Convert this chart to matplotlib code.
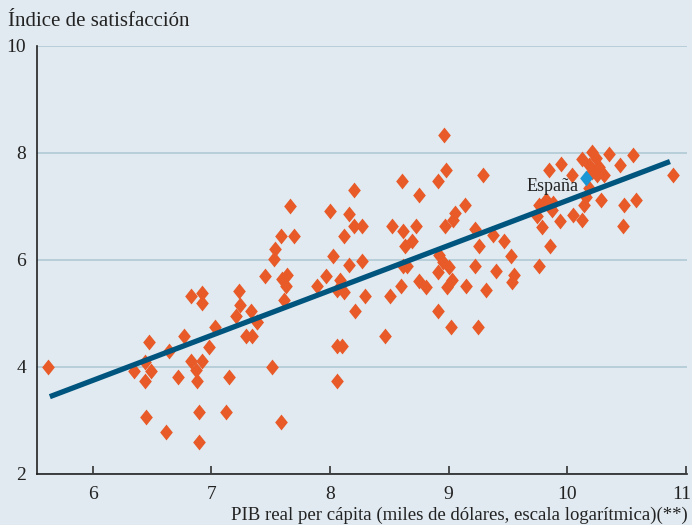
import matplotlib
matplotlib.use("Agg")
import matplotlib.pyplot as plt
import matplotlib.transforms as mtransforms
from matplotlib.path import Path

# log real GDP per capita (x) and satisfaction index (y)
gdp = [5.62, 6.348, 6.438, 6.488, 6.438, 6.471, 6.64, 6.766, 6.825, 6.92, 6.873, 6.881, 6.721,
       6.976, 7.033, 7.145, 6.452, 6.614, 6.895, 6.895, 7.125, 7.21, 7.237, 7.336, 7.29, 7.34,
       7.38, 6.825, 6.92, 6.92, 7.229, 7.386, 7.45, 7.509, 7.588, 7.524, 7.54, 7.588, 7.692,
       7.664, 7.594, 7.639, 7.63, 7.61, 7.888, 7.967, 8.003, 8.023, 8.056, 8.085, 8.121, 8.056,
       8.1, 8.056, 8.121, 8.163, 8.2, 8.267, 8.2, 8.163, 8.267, 8.298, 8.214, 8.466, 8.506,
       8.525, 8.612, 8.61, 8.598, 8.612, 8.646, 8.635, 8.69, 8.724, 8.752, 8.746, 8.809, 8.907,
       8.977, 8.966, 9.033, 9.05, 8.92, 8.949, 9.0, 8.91, 9.025, 8.988, 8.907, 9.02,
       8.963, 9.285, 9.14, 9.224, 9.252, 9.37, 9.462, 9.524, 9.224, 9.4, 9.55, 9.537, 9.15,
       9.313, 9.25,
       9.757, 9.853, 9.79, 9.748, 9.757, 9.819, 9.88, 9.874, 9.937,
       10.127, 10.21, 10.245, 10.18, 10.27, 10.25, 10.31, 10.21, 10.35, 10.44, 10.55, 10.18,
       10.155, 10.14, 10.28, 10.48, 10.58, 10.47, 10.05, 10.12, 9.847, 9.945, 10.04, 10.893]
satisf = [4.0, 3.925, 4.10, 3.925, 3.73, 4.47, 4.29, 4.57, 4.12, 4.11, 3.94, 3.73, 3.82,
          4.38, 4.75, 3.82, 3.07, 2.78, 3.15, 2.59, 3.16, 4.95, 5.15, 5.05, 4.57, 4.57,
          4.85, 5.33, 5.38, 5.20, 5.42, 4.84, 5.70, 4.0, 2.97, 6.01, 6.20, 6.45, 6.45,
          7.01, 5.64, 5.71, 5.51, 5.26, 5.51, 5.70, 6.92, 6.07, 5.43, 5.63, 5.41, 4.39,
          4.39, 3.73, 6.45, 6.86, 6.64, 6.64, 7.30, 5.91, 5.99, 5.33, 5.05, 4.58, 5.33,
          6.64, 6.55, 7.48, 5.52, 5.89, 5.89, 6.26, 6.36, 6.64, 7.21, 5.61, 5.50, 7.48,
          7.68, 6.64, 6.75, 6.87, 6.09, 5.97, 5.86, 5.78, 5.63, 5.49, 5.05, 4.75,
          8.34, 7.59, 7.02, 6.58, 6.27, 6.47, 6.36, 6.08, 5.89, 5.79, 5.72, 5.59, 5.52,
          5.43, 4.75,
          5.89, 6.27, 6.61, 6.82, 7.03, 7.12, 7.06, 6.93, 6.72,
          7.88, 8.01, 7.90, 7.78, 7.74, 7.59, 7.59, 7.65, 7.98, 7.78, 7.96, 7.34,
          7.18, 7.03, 7.12, 7.03, 7.12, 6.64, 6.84, 6.75, 7.68, 7.79, 7.59, 7.59]

spain_gdp = [10.155]
spain_satisf = [7.53]
spain_label = "España"

fit_x = [5.638, 10.865]
fit_y = [3.445, 7.84]

x_ticks = [6, 7, 8, 9, 10, 11]
y_ticks = [2, 4, 6, 8, 10]

bg = "#e1eaf0"
orange = "#e85a28"
navy = "#00557f"
blue = "#1a96d4"
grid_c = "#b7cfda"

plt.rcParams['font.family'] = ['Liberation Serif', 'DejaVu Serif']

diamond = Path([(0, 1), (0.8, 0), (0, -1), (-0.8, 0), (0, 1)],
               [Path.MOVETO, Path.LINETO, Path.LINETO, Path.LINETO, Path.CLOSEPOLY])

fig = plt.figure(figsize=(6.92, 5.25), dpi=100, facecolor=bg)
ax = fig.add_axes([0.0535, 0.0972, 0.9395, 0.8152])
ax.set_facecolor(bg)

ax.set_xlim(5.53, 11.01)
ax.set_ylim(2, 10)

ax.set_yticks(y_ticks)
ax.set_xticks(x_ticks)
ax.yaxis.grid(True, color=grid_c, linewidth=1.4)
ax.set_axisbelow(True)

for s in ['top', 'right']:
    ax.spines[s].set_visible(False)
for s in ['left', 'bottom']:
    ax.spines[s].set_color('#222222')
    ax.spines[s].set_linewidth(1.2)

ax.tick_params(axis='x', direction='in', length=6, width=1.1, color='#222222',
               labelsize=14, pad=9, labelcolor='#222222')
ax.tick_params(axis='y', length=0, labelsize=14, pad=8, labelcolor='#222222')

last = ax.get_xticklabels()[-1]
last.set_transform(last.get_transform() +
                   mtransforms.ScaledTranslation(-4 / 100, 0, fig.dpi_scale_trans))

ax.scatter(gdp, satisf, marker=diamond, s=130, color=orange, linewidths=0, zorder=3)
ax.plot(fit_x, fit_y, color=navy, linewidth=3.8, solid_capstyle='butt', zorder=4)
ax.scatter(spain_gdp, spain_satisf, marker=diamond, s=130, color=blue, linewidths=0, zorder=5)
ax.annotate(spain_label, (spain_gdp[0], spain_satisf[0]), xytext=(-5, -6),
            textcoords='offset points', ha='right', va='center', fontsize=13,
            color='#222222', zorder=6)

fig.text(8 / 692, 1 - 22 / 525, "Índice de satisfacción", fontsize=15, color='#222222',
         ha='left', va='center')
fig.text(688 / 692, 1 - 515 / 525,
         "PIB real per cápita (miles de dólares, escala logarítmica)(**)",
         fontsize=13.5, color='#222222', ha='right', va='center')

fig.savefig("out.png", dpi=100, facecolor=bg)
